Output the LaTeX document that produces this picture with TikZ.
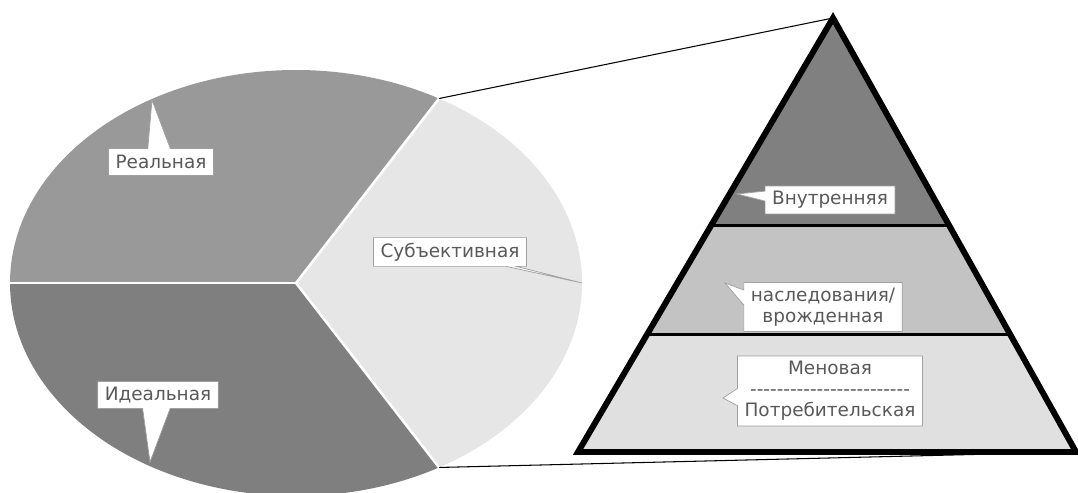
\documentclass[tikz,border=0pt]{standalone}
\usepackage{fontspec}
\setmainfont{DejaVu Sans}
\usetikzlibrary{calc, shapes.callouts}

\definecolor{pieLight}{HTML}{E6E6E6}
\definecolor{pieMid}{HTML}{999999}
\definecolor{pieDark}{HTML}{7F7F7F}
\definecolor{tierTop}{HTML}{808080}
\definecolor{tierMid}{HTML}{C3C3C3}
\definecolor{tierLow}{HTML}{E0E0E0}
\definecolor{noteText}{HTML}{595959}
\definecolor{noteEdge}{HTML}{A0A0A0}

\begin{document}
\begin{tikzpicture}[
        x=0.02cm, y=-0.02cm,
        note/.style={
            rectangle callout,
            draw=noteEdge,
            fill=white,
            text=noteText,
            align=center,
            inner xsep=4pt,
            inner ysep=3pt,
            minimum height=0.54cm,
            font=\fontsize{10.5}{12}\selectfont
        },
        sep/.style={
            white,
            line width=1.4pt
        },
        link/.style={
            black,
            line width=0.6pt
        }
    ]
    \useasboundingbox (0,0) rectangle (1078,493);

    % Круговая диаграмма
    \coordinate (pieC) at (296,283);
    \path (pieC) +(300:286 and 213) coordinate (pieTop)
                 +(180:286 and 213) coordinate (pieLeft)
                 +(60:286 and 213) coordinate (pieBot)
                 +(0:286 and 213) coordinate (pieRight);
    \fill[pieMid] (pieC) -- (pieLeft) arc[start angle=180, end angle=300, x radius=286, y radius=213] -- cycle;
    \fill[pieDark] (pieC) -- (pieBot) arc[start angle=60, end angle=180, x radius=286, y radius=213] -- cycle;
    \fill[pieLight] (pieC) -- (pieTop) arc[start angle=-60, end angle=60, x radius=286, y radius=213] -- cycle;
    \draw[sep] (pieC) -- (pieTop);
    \draw[sep] (pieC) -- (pieLeft);
    \draw[sep] (pieC) -- (pieBot);

    % Пирамида
    \coordinate (apex) at (833,18);
    \coordinate (baseL) at (578,452);
    \coordinate (baseR) at (1076,452);
    \coordinate (cutAL) at ($(apex)!0.477!(baseL)$);
    \coordinate (cutAR) at ($(apex)!0.477!(baseR)$);
    \coordinate (cutBL) at ($(apex)!0.730!(baseL)$);
    \coordinate (cutBR) at ($(apex)!0.730!(baseR)$);

    % Линии выноски
    \draw[link] (pieTop) -- (apex);
    \draw[link] (pieBot) -- (baseR);

    \fill[tierTop] (apex) -- (cutAR) -- (cutAL) -- cycle;
    \fill[tierMid] (cutAL) -- (cutAR) -- (cutBR) -- (cutBL) -- cycle;
    \fill[tierLow] (cutBL) -- (cutBR) -- (baseR) -- (baseL) -- cycle;
    \draw[line width=1.7pt] (cutAL) -- (cutAR);
    \draw[line width=1.7pt] (cutBL) -- (cutBR);
    \draw[line width=3.4pt] (apex) -- (baseR) -- (baseL) -- cycle;

    % Подписи
    \node[note, callout absolute pointer={(152,100)}, callout pointer width=0.45cm] (real) at (161,162) {Реальная};
    \node[note, callout absolute pointer={(150,462)}, callout pointer width=0.55cm] (ideal) at (158,395) {Идеальная};
    \node[note, callout absolute pointer={(582,283)}, callout pointer width=0.2cm] (subj) at (450,252) {Субъективная};
    \node[note, callout absolute pointer={(737,194)}, callout pointer width=0.2cm] (inner) at (830,200) {Внутренняя};
    \node[note, callout absolute pointer={(725,283)}, callout pointer width=0.3cm] (inherit) at (823,307) {наследования/\\врожденная};
    \node[note, callout absolute pointer={(723,398)}, callout pointer width=0.35cm] (exch) at (830,391)
        {Меновая\\\foreach \i in {1,...,24}{-}\\Потребительская};

\end{tikzpicture}
\end{document}
